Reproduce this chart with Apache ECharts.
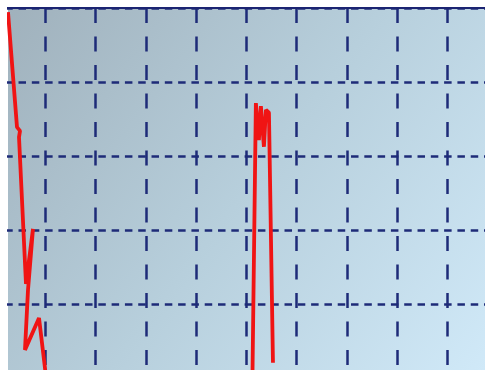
<!DOCTYPE html>
<html>
<head>
<meta charset="utf-8">
<script src="https://cdn.jsdelivr.net/npm/echarts@6/dist/echarts.min.js"></script>
<style>
html,body{margin:0;padding:0;background:#fff;}
#c{width:485px;height:370px;}
</style>
</head>
<body>
<div id="c"></div>
<script>
// Series values: [x, y] pairs
const xValues = [2.6, 4.39, 4.99, 4.79, 6.18, 7.57, 6.58, 5.98, 8.77, 10.36, 12.9, 16.9, 24.9, 32.8, 40.8, 48.7, 51.2, 51.9, 52.5, 52.9, 53.5, 53.9, 54.5, 55.3];
const yValues = [98.9, 67.8, 66.8, 65.1, 25.4, 40.3, 23.8, 7.6, 16.2, -1.9, -8.6, -7.3, -10, -5.9, -9.2, -7.3, -1.9, 74.3, 64.3, 73.5, 62.5, 72.5, 71.7, 4.1];
const xTicks = [0, 100, 10];   // min, max, interval
const yTicks = [-40, 100, 20]; // min, max, interval

const data = xValues.map((x, i) => [x, yValues[i]]);
const chart = echarts.init(document.getElementById('c'), null, {renderer: 'canvas'});
chart.setOption({
  backgroundColor: '#ffffff',
  animation: false,
  grid: {left: -5.08, top: 8, width: 502.8, height: 518, containLabel: false, outerBoundsMode: 'none'},
  xAxis: {
    type: 'value', position: 'top', min: xTicks[0], max: xTicks[1], interval: xTicks[2],
    axisLine: {show: true, onZero: false, lineStyle: {color: '#1b2472', width: 2}},
    axisTick: {show: false}, axisLabel: {show: false},
    splitLine: {show: true, lineStyle: {color: '#1e2b78', width: 2.5, type: [15, 13.5]}}
  },
  yAxis: {
    type: 'value', min: yTicks[0], max: yTicks[1], interval: yTicks[2],
    axisLine: {show: false}, axisTick: {show: false}, axisLabel: {show: false},
    splitLine: {show: true, lineStyle: {color: '#1e2b78', width: 2.5, type: [7.5, 5.8], dashOffset: 3}}
  },
  graphic: [
    {type: 'rect', z: -10, silent: true, shape: {x: 8, y: 8, width: 477, height: 362},
     style: {fill: new echarts.graphic.LinearGradient(0, 0, 1, 1, [
       {offset: 0, color: '#a0b1bc'},
       {offset: 0.5, color: '#b7cfdc'},
       {offset: 1, color: '#d0e9f8'}
     ])}},
    {type: 'rect', z: 100, silent: true, shape: {x: 0, y: 0, width: 7, height: 370}, style: {fill: '#ffffff'}},
    {type: 'rect', z: 100, silent: true, shape: {x: 0, y: 0, width: 485, height: 7}, style: {fill: '#ffffff'}}
  ],
  series: [{
    type: 'line', data: data, showSymbol: false, symbol: 'none', smooth: false,
    lineStyle: {color: '#f01414', width: 3.8}, z: 5
  }]
});
</script>
</body>
</html>
